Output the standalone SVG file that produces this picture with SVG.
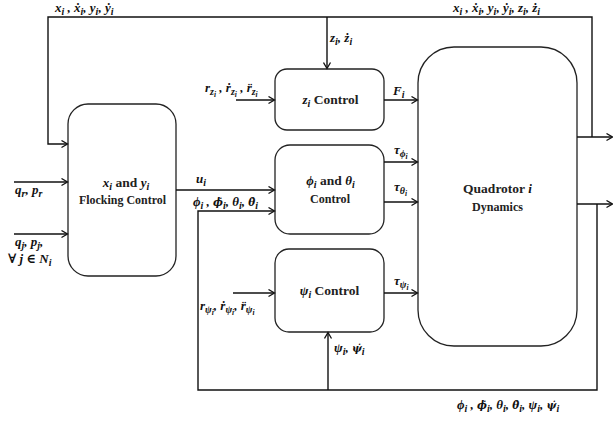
<svg xmlns="http://www.w3.org/2000/svg" width="613" height="422" viewBox="0 0 613 422">
<style>
.box{fill:#fff;stroke:#222;stroke-width:1.3}
.ln{fill:none;stroke:#111;stroke-width:1.4}
.m{font-family:'Liberation Serif','Times New Roman','DejaVu Serif',serif;font-style:italic;font-weight:bold;font-size:13px;fill:#111}
.t{font-family:'Liberation Serif','Times New Roman','DejaVu Serif',serif;font-weight:bold;font-size:13.5px;fill:#222}
.g{font-family:'DejaVu Serif',serif;font-size:10.5px}
.s{font-size:10px}
.ss{font-size:7.5px}
.u{font-style:normal}
</style>
<defs>
<marker id="ar" markerUnits="userSpaceOnUse" markerWidth="9" markerHeight="9" refX="7" refY="4.5" orient="auto">
<path d="M1.5,1 L7.5,4.5 L1.5,8" fill="none" stroke="#111" stroke-width="1.3"/>
</marker>
</defs>
<rect width="613" height="422" fill="#fff"/>

<g id="flocking">
<rect class="box" x="68" y="104" width="108" height="172" rx="20" ry="20"/>
<text class="t" x="126" y="187" text-anchor="middle"><tspan class="m">x</tspan><tspan class="m s" dy="3">i</tspan><tspan dy="-3"> and </tspan><tspan class="m">y</tspan><tspan class="m s" dy="3">i</tspan></text>
<text class="t" x="122.5" y="204" text-anchor="middle" textLength="87" lengthAdjust="spacingAndGlyphs">Flocking Control</text>
</g>
<g id="zcontrol">
<rect class="box" x="275" y="69" width="109" height="61" rx="12" ry="12"/>
<text class="t" x="330.5" y="104" text-anchor="middle"><tspan class="m">z</tspan><tspan class="m s" dy="3">i</tspan><tspan dy="-3"> Control</tspan></text>
</g>
<g id="phitheta">
<rect class="box" x="275" y="145" width="109" height="89" rx="15" ry="15"/>
<text class="t" x="330.5" y="185" text-anchor="middle"><tspan class="m">ϕ</tspan><tspan class="m s" dy="3">i</tspan><tspan dy="-3"> and </tspan><tspan class="m">θ</tspan><tspan class="m s" dy="3">i</tspan></text>
<text class="t" x="330" y="203" text-anchor="middle" textLength="40" lengthAdjust="spacingAndGlyphs">Control</text>
</g>
<g id="psicontrol">
<rect class="box" x="275" y="249" width="109" height="83" rx="14" ry="14"/>
<text class="t" x="329.5" y="295" text-anchor="middle"><tspan class="m">ψ</tspan><tspan class="m s" dy="3">i</tspan><tspan dy="-3"> Control</tspan></text>
</g>
<g id="quadrotor">
<rect class="box" x="418" y="47" width="159" height="299" rx="36" ry="36"/>
<text class="t" x="497.5" y="193" text-anchor="middle" font-size="13">Quadrotor <tspan class="m">i</tspan></text>
<text class="t" x="497.5" y="211" text-anchor="middle" textLength="51" lengthAdjust="spacingAndGlyphs">Dynamics</text>
</g>

<g id="connectors">
<polyline class="ln" points="592,137 592,17 48,17 48,144 67,144" marker-end="url(#ar)"/>
<line class="ln" x1="327" y1="17" x2="327" y2="68" marker-end="url(#ar)"/>
<line class="ln" x1="577" y1="137" x2="612" y2="137" marker-end="url(#ar)"/>
<line class="ln" x1="577" y1="204" x2="612" y2="204" marker-end="url(#ar)"/>
<polyline class="ln" points="597,204 597,390 198,390 198,211 274,211" marker-end="url(#ar)"/>
<line class="ln" x1="328" y1="390" x2="328" y2="333" marker-end="url(#ar)"/>
<line class="ln" x1="14" y1="182" x2="67" y2="182" marker-end="url(#ar)"/>
<line class="ln" x1="14" y1="234" x2="67" y2="234" marker-end="url(#ar)"/>
<line class="ln" x1="176" y1="190" x2="274" y2="190" marker-end="url(#ar)"/>
<line class="ln" x1="236" y1="100" x2="274" y2="100" marker-end="url(#ar)"/>
<line class="ln" x1="233" y1="293" x2="274" y2="293" marker-end="url(#ar)"/>
<line class="ln" x1="384" y1="100" x2="417" y2="100" marker-end="url(#ar)"/>
<line class="ln" x1="384" y1="162" x2="417" y2="162" marker-end="url(#ar)"/>
<line class="ln" x1="384" y1="202" x2="417" y2="202" marker-end="url(#ar)"/>
<line class="ln" x1="384" y1="293" x2="417" y2="293" marker-end="url(#ar)"/>
</g>

<g id="labels">
<text class="m" x="55" y="12">x<tspan class="s" dy="3">i</tspan><tspan dy="-3"> , ẋ</tspan><tspan class="s" dy="3">i</tspan><tspan dy="-3">, y</tspan><tspan class="s" dy="3">i</tspan><tspan dy="-3">, ẏ</tspan><tspan class="s" dy="3">i</tspan></text>
<text class="m" x="453" y="12">x<tspan class="s" dy="3">i</tspan><tspan dy="-3"> , ẋ</tspan><tspan class="s" dy="3">i</tspan><tspan dy="-3">, y</tspan><tspan class="s" dy="3">i</tspan><tspan dy="-3">, ẏ</tspan><tspan class="s" dy="3">i</tspan><tspan dy="-3">, z</tspan><tspan class="s" dy="3">i</tspan><tspan dy="-3">, ż</tspan><tspan class="s" dy="3">i</tspan></text>
<text class="m" x="330" y="42">z<tspan class="s" dy="3">i</tspan><tspan dy="-3">, ż</tspan><tspan class="s" dy="3">i</tspan></text>
<text class="m" x="205" y="92">r<tspan class="s" dy="3">z</tspan><tspan class="ss" dy="2">i</tspan><tspan dy="-5"> , ṙ</tspan><tspan class="s" dy="3">z</tspan><tspan class="ss" dy="2">i</tspan><tspan dy="-5"> , r̈</tspan><tspan class="s" dy="3">z</tspan><tspan class="ss" dy="2">i</tspan></text>
<text class="m" x="15" y="194">q<tspan class="s" dy="3">r</tspan><tspan dy="-3">, p</tspan><tspan class="s" dy="3">r</tspan></text>
<text class="m" x="15" y="246">q<tspan class="s" dy="3">j</tspan><tspan dy="-3">, p</tspan><tspan class="s" dy="3">j</tspan><tspan dy="-3">,</tspan></text>
<text class="m" x="8" y="263"><tspan class="u">∀</tspan> j <tspan class="u">∈</tspan> N<tspan class="s" dy="3">i</tspan></text>
<text class="m" x="196" y="183">u<tspan class="s" dy="3">i</tspan></text>
<text class="m" x="193" y="206">ϕ<tspan class="s" dy="3">i</tspan><tspan dy="-3"> , </tspan><tspan class="g">ϕ̇</tspan><tspan class="s" dy="3">i</tspan><tspan dy="-3">, θ</tspan><tspan class="s" dy="3">i</tspan><tspan dy="-3">, </tspan><tspan class="g">θ̇</tspan><tspan class="s" dy="3">i</tspan></text>
<text class="m" x="393" y="95">F<tspan class="s" dy="3">i</tspan></text>
<text class="m" x="394" y="154">τ<tspan class="s" dy="3">ϕ</tspan><tspan class="ss" dy="2">i</tspan></text>
<text class="m" x="394" y="191">τ<tspan class="s" dy="3">θ</tspan><tspan class="ss" dy="2">i</tspan></text>
<text class="m" x="394" y="285">τ<tspan class="s" dy="3">ψ</tspan><tspan class="ss" dy="2">i</tspan></text>
<text class="m" x="200" y="310">r<tspan class="s" dy="3">ψ</tspan><tspan class="ss" dy="2">i</tspan><tspan dy="-5">, ṙ</tspan><tspan class="s" dy="3">ψ</tspan><tspan class="ss" dy="2">i</tspan><tspan dy="-5">, r̈</tspan><tspan class="s" dy="3">ψ</tspan><tspan class="ss" dy="2">i</tspan></text>
<text class="m" x="334" y="352">ψ<tspan class="s" dy="3">i</tspan><tspan dy="-3">, </tspan><tspan class="g">ψ̇</tspan><tspan class="s" dy="3">i</tspan></text>
<text class="m" x="457" y="409">ϕ<tspan class="s" dy="3">i</tspan><tspan dy="-3"> , </tspan><tspan class="g">ϕ̇</tspan><tspan class="s" dy="3">i</tspan><tspan dy="-3">, θ</tspan><tspan class="s" dy="3">i</tspan><tspan dy="-3">, </tspan><tspan class="g">θ̇</tspan><tspan class="s" dy="3">i</tspan><tspan dy="-3">, ψ</tspan><tspan class="s" dy="3">i</tspan><tspan dy="-3">, </tspan><tspan class="g">ψ̇</tspan><tspan class="s" dy="3">i</tspan></text>
</g>
</svg>
